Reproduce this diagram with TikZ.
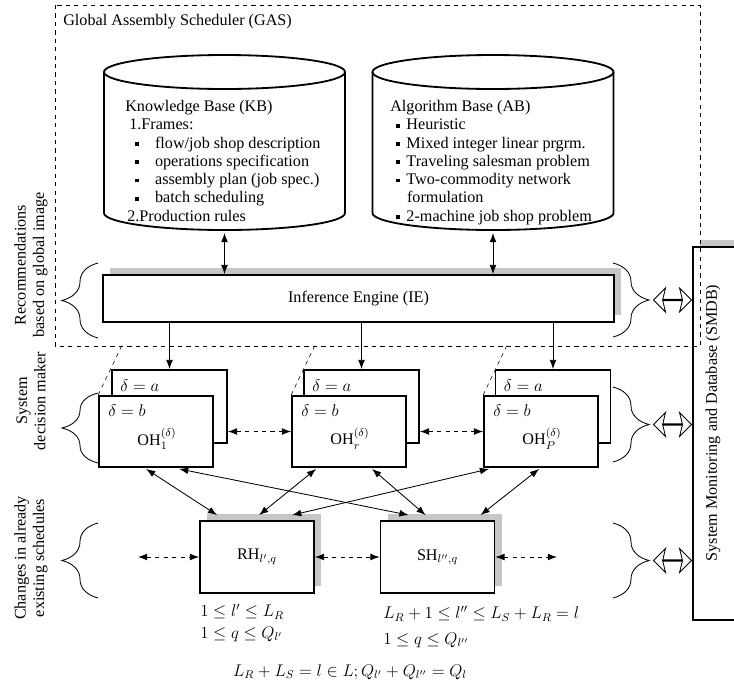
\documentclass[tikz,border=0pt]{standalone}
\usepackage{amsmath}
\usepackage{amssymb}
\usepackage{fontspec}
\setmainfont{Liberation Serif}
\usetikzlibrary{arrows.meta,calc,shadows,shapes.arrows,decorations.pathreplacing}

\newcommand{\sqbul}{\raisebox{0.3ex}{\rule{2.7pt}{2.7pt}}}

\tikzset{
  every node/.style={font=\fontsize{11.5}{13}\selectfont},
  thickbox/.style={draw, line width=1.3pt, fill=white},
  shadowed/.style={drop shadow={shadow xshift=5pt, shadow yshift=5pt, fill=gray!45, opacity=1}},
  hbox/.style={thickbox, shadowed, minimum width=28.5mm, minimum height=18mm},
  ohfront/.style={thickbox, minimum width=28.5mm, minimum height=17.75mm},
  ohback/.style={thickbox, minimum width=28.75mm, minimum height=18.25mm},
  cyl/.style={line width=1.3pt},
  conn/.style={semithick, <->},
  dashconn/.style={semithick, dashed, <->},
  hollow/.style={double arrow, draw, semithick, inner sep=0pt, minimum height=9.5mm, minimum width=6mm,
    double arrow head extend=1.9mm, double arrow head indent=0.7mm},
  lbrace/.style={decorate, decoration={brace, amplitude=9mm}, semithick},
}

\begin{document}
\begin{tikzpicture}[x=0.25mm, y=-0.25mm, >={Latex[length=2.3mm, width=1.7mm]}]
        \useasboundingbox (0,0) rectangle (734,690);
        % monitoring and database
        \node[thickbox, shadowed, minimum width=13.5mm, minimum height=93.25mm] (smdb) at (720,433.5) {};
        \node[rotate=90] (smdbtxt) at (713,423) {System Monitoring and Database (SMDB)};
        % global scheduler
        \draw[dashed] (55,5) rectangle (700,346);
        \node[anchor=west, inner sep=0pt] (gas) at (63,22) {Global Assembly Scheduler (GAS)};
        % knowledge base
        \draw[cyl] (104,72) -- (104,213) arc[start angle=180, end angle=360, x radius=30.125mm, y radius=4.25mm] -- (345,72);
        \draw[cyl] (224.5,72) ellipse[x radius=30.125mm, y radius=4.25mm];
        \node[anchor=north west, align=left, inner sep=0pt] (kbtxt) at (125,100) {Knowledge Base (KB)\\
            \hspace*{1mm}1.Frames:\\
            \hspace*{2.5mm}\sqbul\hspace*{4mm}flow/job shop description\\
            \hspace*{2.5mm}\sqbul\hspace*{4mm}operations specification\\
            \hspace*{2.5mm}\sqbul\hspace*{4mm}assembly plan (job spec.)\\
            \hspace*{2.5mm}\sqbul\hspace*{4mm}batch scheduling\\
            \hspace*{0.5mm}2.Production rules};
        % algorithm base
        \draw[cyl] (372.5,72) -- (372.5,213) arc[start angle=180, end angle=360, x radius=30.125mm, y radius=4.25mm] -- (613.5,72);
        \draw[cyl] (493,72) ellipse[x radius=30.125mm, y radius=4.25mm];
        \node[anchor=north west, align=left, inner sep=0pt] (abtxt) at (390,100) {Algorithm Base (AB)\\
            \hspace*{1.5mm}\sqbul\hspace*{1.6mm}Heuristic\\
            \hspace*{1.5mm}\sqbul\hspace*{1.6mm}Mixed integer linear prgrm.\\
            \hspace*{1.5mm}\sqbul\hspace*{1.6mm}Traveling salesman problem\\
            \hspace*{1.5mm}\sqbul\hspace*{1.6mm}Two-commodity network\\
            \hspace*{4.2mm}formulation\\
            \hspace*{1.5mm}\sqbul\hspace*{1.6mm}2-machine job shop problem};
        \coordinate (kbbot) at (224.5,233);
        \coordinate (abbot) at (493,233);
        % inference engine
        \node[thickbox, shadowed, minimum width=127.75mm, minimum height=11.75mm] (ie) at (358.5,298.5) {Inference Engine (IE)};
        \draw[conn] (kbbot) -- (kbbot |- ie.north);
        \draw[conn] (abbot) -- (abbot |- ie.north);
        % operation handlers
        \node[ohback] (oha1) at (169.5,406.5) {};
        \node[ohback] (oha2) at (361.5,406.5) {};
        \node[ohback] (oha3) at (553,406.5) {};
        \node[anchor=west, inner sep=0pt] at ($(oha1.north west)+(9,17)$) {$\delta = a$};
        \node[anchor=west, inner sep=0pt] at ($(oha2.north west)+(9,17)$) {$\delta = a$};
        \node[anchor=west, inner sep=0pt] at ($(oha3.north west)+(9,17)$) {$\delta = a$};
        \node[ohfront] (ohb1) at (156,431.5) {};
        \node[ohfront] (ohb2) at (349,431.5) {};
        \node[ohfront] (ohb3) at (541,431.5) {};
        \node[anchor=west, inner sep=0pt] at ($(ohb1.north west)+(10,16)$) {$\delta = b$};
        \node[anchor=west, inner sep=0pt] at ($(ohb2.north west)+(10,16)$) {$\delta = b$};
        \node[anchor=west, inner sep=0pt] at ($(ohb3.north west)+(10,16)$) {$\delta = b$};
        \node[inner sep=0pt] (oh1) at ($(ohb1.center)+(1,7)$) {$\mathrm{OH}_{1}^{(\delta)}$};
        \node[inner sep=0pt] (oh2) at ($(ohb2.center)+(1,7)$) {$\mathrm{OH}_{\vphantom{P}r}^{(\delta)}$};
        \node[inner sep=0pt] (oh3) at ($(ohb3.center)+(1,7)$) {$\mathrm{OH}_{P}^{(\delta)}$};
        \draw[semithick, ->] (ie.south -| oha1.north) -- (oha1.north);
        \draw[semithick, ->] (ie.south -| oha2.north) -- (oha2.north);
        \draw[semithick, ->] (ie.south -| oha3.north) -- (oha3.north);
        \draw[dashed] (ohb1.north west) -- ++(24,-50);
        \draw[dashed] (ohb2.north west) -- ++(24,-50);
        \draw[dashed] (ohb3.north west) -- ++(24,-50);
        \draw[dashconn] (oha1.east |- ohb1.east) -- (ohb2.west);
        \draw[dashconn] (oha2.east |- ohb2.east) -- (ohb3.west);
        % schedule handlers
        \node[hbox] (rh) at (257,557) {$\mathrm{RH}_{l',q}$};
        \node[hbox] (sh) at (437.5,557) {$\mathrm{SH}_{l'',q}$};
        \coordinate (rhleft) at (138,557);
        \coordinate (shright) at (557,557);
        \draw[dashconn] (rhleft) -- (rh.west);
        \draw[dashconn] (rh.east) -- (sh.west);
        \draw[dashconn] (sh.east) -- (shright);
        \draw[conn] ($(ohb1.south west)+(48,1)$) -- ($(rh.north west)+(18,-5)$);
        \draw[conn] ($(ohb1.south west)+(81,1)$) -- ($(sh.north west)+(29,-5)$);
        \draw[conn] ($(ohb2.south west)+(25,1)$) -- ($(rh.north west)+(60,-5)$);
        \draw[conn] ($(ohb2.south west)+(81,1)$) -- ($(sh.north west)+(46,-5)$);
        \draw[conn] ($(ohb3.south west)+(6,1)$) -- ($(rh.north west)+(93,-5)$);
        \draw[conn] ($(ohb3.south west)+(56,1)$) -- ($(sh.north west)+(101,-5)$);
        % index ranges
        \node[anchor=west, inner sep=0pt] (rhc1) at (200,612) {$1 \le l' \le L_R$};
        \node[anchor=west, inner sep=0pt] (rhc2) at (200,634) {$1 \le q \le Q_{l'}$};
        \node[anchor=west, inner sep=0pt] (shc1) at (383,614) {$L_R + 1 \le l'' \le L_S + L_R = l$};
        \node[anchor=west, inner sep=0pt] (shc2) at (383,640) {$1 \le q \le Q_{l''}$};
        \node (total) at (350,672) {$L_R + L_S = l \in L; Q_{l'} + Q_{l''} = Q_l$};
        % level braces
        \draw[lbrace] (98,338) -- (98,263);
        \draw[lbrace] (98,463) -- (98,393);
        \draw[lbrace] (98,598) -- (98,523);
        \draw[lbrace] (613,263) -- (613,337);
        \draw[lbrace] (613,387) -- (613,462);
        \draw[lbrace] (613,523) -- (613,598);
        \node[rotate=90, align=center] (lblrec) at (31,265) {Recommendations\\based on global image};
        \node[rotate=90, align=center] (lblsdm) at (31,401) {System\\decision maker};
        \node[rotate=90, align=center] (lblchg) at (31,558) {Changes in already\\existing schedules};
        \coordinate (br1) at (653,300);
        \coordinate (br2) at (653,424.5);
        \coordinate (br3) at (653,560.5);
        \node[hollow] (link1) at ($(br1)!0.5!(br1 -| smdb.west)$) {};
        \node[hollow] (link2) at ($(br2)!0.5!(br2 -| smdb.west)$) {};
        \node[hollow] (link3) at ($(br3)!0.5!(br3 -| smdb.west)$) {};
    \end{tikzpicture}
\end{document}
